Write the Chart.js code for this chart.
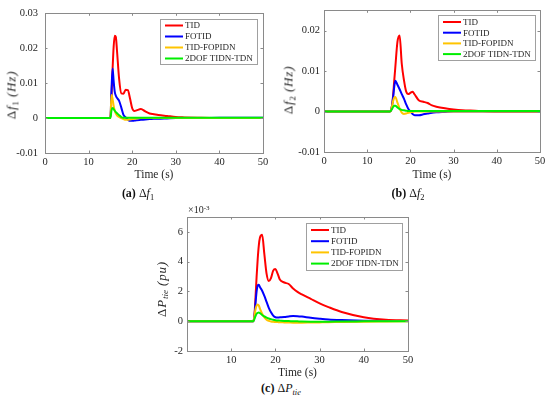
<!DOCTYPE html>
<html>
<head>
<meta charset="utf-8">
<script src="https://cdn.jsdelivr.net/npm/chart.js@4/dist/chart.umd.min.js"></script>
<style>
body { margin: 0; background: #fff; width: 550px; height: 397px; position: relative; overflow: hidden;
  font-family: "Liberation Serif", serif; color: #262626; }
canvas { position: absolute; }
.lbl { position: absolute; white-space: nowrap; font-size: 11px; line-height: 1; }
.ytl { transform: translate(-50%, -50%) rotate(-90deg); font-size: 13px; letter-spacing: 0.8px; }
.cap { transform: translate(-50%, -50%); font-size: 12px; color: #111; }
sub { font-size: 70%; vertical-align: -0.3em; line-height: 0; letter-spacing: 0; }
sup { font-size: 70%; vertical-align: 0.45em; line-height: 0; }
</style>
</head>
<body>
<canvas id="chartF1" width="275" height="182" style="left:0;top:0"></canvas>
<canvas id="chartF2" width="275" height="182" style="left:275px;top:0"></canvas>
<canvas id="chartPtie" width="290" height="185" style="left:130px;top:195px"></canvas>

<div class="lbl ytl" style="left:11px;top:95px">Δ<i>f</i><sub>1</sub> <i>(Hz)</i></div>
<div class="lbl ytl" style="left:288px;top:90px">Δ<i>f</i><sub>2</sub> <i>(Hz)</i></div>
<div class="lbl ytl" style="left:161px;top:289px">Δ<i>P</i><sub><i>tie</i></sub> <i>(pu)</i></div>
<div class="lbl" style="left:188px;top:205px;font-size:10px">×10<sup>-3</sup></div>

<div class="lbl cap" style="left:138px;top:193px"><b>(a)</b> Δ<i>f</i><sub>1</sub></div>
<div class="lbl cap" style="left:408px;top:193px"><b>(b)</b> Δ<i>f</i><sub>2</sub></div>
<div class="lbl cap" style="left:281px;top:388px"><b>(c)</b> Δ<i>P</i><sub><i>tie</i></sub></div>

<script>
const tiempo = [0, 14.5, 15, 15.25, 15.5, 15.75, 16, 16.25, 16.5, 17, 17.5, 18, 18.5, 19, 19.5, 20, 20.5, 21, 22, 23, 24, 25, 26, 28, 30, 32, 35, 40, 45, 50];
const etiquetas = ['TID', 'FOTID', 'TID-FOPIDN', '2DOF TIDN-TDN'];
const cores = ['#ff0000', '#0000ff', '#ffc400', '#00ee00'];

// (a) delta f1 (Hz)
const df1Tid = [0, 0, 0, 0.006, 0.014, 0.0205, 0.0236, 0.0232, 0.0195, 0.0112, 0.0071, 0.0070, 0.0081, 0.0080, 0.0056, 0.0028, 0.0020, 0.0022, 0.0026, 0.0019, 0.0013, 0.0011, 0.0009, 0.0006, 0.0003, 0.0002, 0.0001, 0, 0, 0];
const df1Fotid = [0, 0, 0, 0.008, 0.0142, 0.0105, 0.0075, 0.0064, 0.0058, 0.0049, 0.0030, 0.0009, 0.0002, -0.0004, -0.0008, -0.0008, -0.0007, -0.0006, -0.0005, -0.0004, -0.0003, -0.0002, -0.0002, -0.0001, 0, 0, 0, 0.0001, 0.0001, 0.0001];
const df1TidFopidn = [0, 0, 0, 0.0066, 0.0055, 0.0035, 0.0021, 0.0013, 0.0008, 0.0003, 0, -0.0003, -0.0005, -0.0005, -0.0004, -0.0003, -0.0002, -0.0001, 0, 0, 0, 0, 0, 0, 0, 0, 0, 0, 0, 0];
const df1Tidn = [0, 0, 0, 0.0022, 0.0029, 0.0026, 0.0021, 0.0017, 0.0014, 0.0008, 0.0003, 0.0001, 0.0001, 0.0001, 0.0001, 0.0001, 0.0001, 0.0001, 0.0001, 0.0001, 0.0001, 0.0001, 0.0001, 0.0001, 0.0001, 0.0001, 0.0001, 0.0001, 0.0001, 0.0001];

// (b) delta f2 (Hz)
const df2Tid = [0, 0, 0, 0, 0.0002, 0.0015, 0.004, 0.0075, 0.0108, 0.0172, 0.0188, 0.0118, 0.0078, 0.0050, 0.0043, 0.0046, 0.0049, 0.0042, 0.0027, 0.0024, 0.0021, 0.0015, 0.0012, 0.0008, 0.0005, 0.0003, 0.0002, 0, 0, 0];
const df2Fotid = [0, 0, 0, 0, 0.0002, 0.0015, 0.0035, 0.0060, 0.0076, 0.0066, 0.0055, 0.0043, 0.0032, 0.0018, 0.0007, 0, -0.0006, -0.0009, -0.0009, -0.0007, -0.0005, -0.0003, -0.0002, -0.0001, 0, 0, 0, 0, 0, 0];
const df2TidFopidn = [0, 0, 0, 0, 0.0003, 0.0013, 0.0026, 0.0034, 0.0036, 0.0022, 0.0008, -0.0003, -0.0006, -0.0005, -0.0003, -0.0002, -0.0001, 0, 0, 0, 0, 0, 0, 0, 0, 0, 0, 0, 0, 0];
const df2Tidn = [0, 0, 0, 0, 0.0002, 0.0006, 0.0011, 0.0014, 0.0014, 0.0010, 0.0006, 0.0004, 0.0003, 0.0002, 0.0001, 0.0001, 0.0001, 0.0001, 0.0001, 0.0001, 0.0001, 0.0001, 0.0001, 0.0001, 0.0001, 0.0001, 0.0001, 0.0001, 0.0001, 0.0001];

// (c) delta Ptie (x10^-3 pu)
const ptieTid = [0, 0, 0, 0.4, 1.6, 3.0, 4.2, 5.1, 5.6, 5.8, 4.5, 3.2, 2.7, 2.9, 3.4, 3.5, 3.2, 2.8, 2.6, 2.5, 2.2, 1.97, 1.8, 1.5, 1.2, 0.95, 0.62, 0.27, 0.1, 0.05];
const ptieFotid = [0, 0, 0, 0.3, 1.2, 2.0, 2.4, 2.45, 2.3, 2.05, 1.7, 1.3, 0.9, 0.6, 0.38, 0.27, 0.25, 0.26, 0.28, 0.32, 0.35, 0.34, 0.31, 0.23, 0.17, 0.12, 0.08, 0.04, 0.02, 0.01];
const ptieTidFopidn = [0, 0, 0, 0.3, 0.8, 1.05, 1.12, 1.05, 0.85, 0.5, 0.25, 0.1, 0.02, -0.02, -0.04, -0.05, -0.06, -0.07, -0.08, -0.09, -0.1, -0.1, -0.1, -0.09, -0.08, -0.07, -0.05, -0.03, -0.02, -0.01];
const ptieTidn = [0, 0, 0, 0.15, 0.35, 0.5, 0.56, 0.58, 0.55, 0.42, 0.32, 0.24, 0.18, 0.14, 0.1, 0.07, 0.05, 0.04, 0.02, 0.01, 0, -0.01, -0.02, -0.03, -0.03, -0.03, -0.02, -0.01, 0, 0];

const corTexto = '#262626';
const corEixo = '#8a8a8a';
const fonte = '"Liberation Serif", serif';

// caixa com ticks para dentro, estilo matlab
const caixaMatlab = {
	id: 'caixaMatlab',
	afterDraw(chart) {
		const ctx = chart.ctx, a = chart.chartArea;
		const sx = chart.scales.x, sy = chart.scales.y;
		ctx.save();
		ctx.strokeStyle = corEixo;
		ctx.lineWidth = 1;
		ctx.strokeRect(Math.round(a.left) + 0.5, Math.round(a.top) + 0.5, Math.round(a.right - a.left), Math.round(a.bottom - a.top));
		ctx.beginPath();
		sx.ticks.forEach(t => {
			const px = Math.round(sx.getPixelForValue(t.value)) + 0.5;
			ctx.moveTo(px, a.bottom); ctx.lineTo(px, a.bottom - 2.5);
			ctx.moveTo(px, a.top); ctx.lineTo(px, a.top + 2.5);
		});
		sy.ticks.forEach(t => {
			const py = Math.round(sy.getPixelForValue(t.value)) + 0.5;
			ctx.moveTo(a.left, py); ctx.lineTo(a.left + 2.5, py);
			ctx.moveTo(a.right, py); ctx.lineTo(a.right - 2.5, py);
		});
		ctx.stroke();
		ctx.restore();
	}
};

const legendaCaixa = {
	id: 'legendaCaixa',
	afterDatasetsDraw(chart, args, opts) {
		const ctx = chart.ctx, a = chart.chartArea;
		const x = Math.round(a.right - opts.offset - opts.width), y = Math.round(a.top + opts.offset);
		ctx.save();
		ctx.fillStyle = '#fff';
		ctx.fillRect(x, y, opts.width, opts.height);
		ctx.strokeStyle = '#a0a0a0';
		ctx.lineWidth = 1;
		ctx.strokeRect(x + 0.5, y + 0.5, opts.width, opts.height);
		ctx.font = '9px ' + fonte;
		ctx.textBaseline = 'middle';
		chart.data.datasets.forEach((ds, i) => {
			const ly = y + opts.first + i * opts.step;
			ctx.strokeStyle = ds.borderColor;
			ctx.lineWidth = 2;
			ctx.beginPath(); ctx.moveTo(x + 5, ly); ctx.lineTo(x + 23, ly); ctx.stroke();
			ctx.fillStyle = corTexto;
			ctx.fillText(ds.label, x + 25, ly + 0.5);
		});
		ctx.restore();
	}
};

function montaDatasets(series) {
	return series.map((s, i) => ({
		label: etiquetas[i],
		data: tiempo.map((t, k) => ({ x: t, y: s[k] })),
		borderColor: cores[i],
		borderWidth: 2,
		pointRadius: 0,
		fill: false,
		cubicInterpolationMode: 'monotone',
		order: 4 - i
	}));
}

function loadChart(id, series, cfg) {
	const el = document.getElementById(id);
	return new Chart(el, {
		type: 'line',
		data: { datasets: montaDatasets(series) },
		options: {
			responsive: false,
			animation: false,
			devicePixelRatio: 1,
			layout: { padding: { top: cfg.padTop, right: cfg.padRight, left: 0, bottom: 0 } },
			scales: {
				x: {
					type: 'linear',
					min: 0, max: 50,
					grid: { display: false, drawTicks: false },
					border: { display: false },
					ticks: {
						stepSize: 10,
						padding: 3,
						color: corTexto,
						font: { family: fonte, size: 10.5 },
						callback: v => (cfg.hideZeroX && v === 0) ? '' : String(v)
					},
					title: { display: true, text: 'Time (s)', color: corTexto, padding: 0, font: { family: fonte, size: 11.5 } },
					afterFit: s => { s.height = cfg.xHeight; }
				},
				y: {
					min: cfg.yMin, max: cfg.yMax,
					grid: { display: false, drawTicks: false },
					border: { display: false },
					ticks: {
						stepSize: cfg.yStep,
						includeBounds: false,
						padding: cfg.yPad,
						color: corTexto,
						font: { family: fonte, size: 10.5 },
						callback: cfg.fmt
					},
					afterFit: s => { s.width = cfg.yWidth; }
				}
			},
			plugins: {
				legend: { display: false },
				tooltip: { enabled: false },
				legendaCaixa: cfg.legend
			}
		},
		plugins: [legendaCaixa, caixaMatlab]
	});
}

const fmtHz = v => Math.abs(v) < 1e-9 ? '0' : v.toFixed(2);
const fmtInt = v => Math.abs(v) < 1e-9 ? '0' : String(Math.round(v));

loadChart('chartF1', [df1Tid, df1Fotid, df1TidFopidn, df1Tidn], {
	padTop: 7, padRight: 12, xHeight: 29, yWidth: 45, yPad: 7,
	yMin: -0.01, yMax: 0.03, yStep: 0.01, fmt: fmtHz,
	legend: { width: 97, height: 45, offset: 6, first: 6.5, step: 11 }
});

loadChart('chartF2', [df2Tid, df2Fotid, df2TidFopidn, df2Tidn], {
	padTop: 8, padRight: 10, xHeight: 30, yWidth: 49, yPad: 4,
	yMin: -0.01, yMax: 0.025, yStep: 0.01, fmt: fmtHz,
	legend: { width: 97, height: 45, offset: 5, first: 7, step: 10.7 }
});

loadChart('chartPtie', [ptieTid, ptieFotid, ptieTidFopidn, ptieTidn], {
	padTop: 22, padRight: 12, xHeight: 29, yWidth: 57, yPad: 4, hideZeroX: true,
	yMin: -2, yMax: 7, yStep: 2, fmt: fmtInt,
	legend: { width: 96, height: 47, offset: 6, first: 7, step: 11.2 }
});
</script>
</body>
</html>
